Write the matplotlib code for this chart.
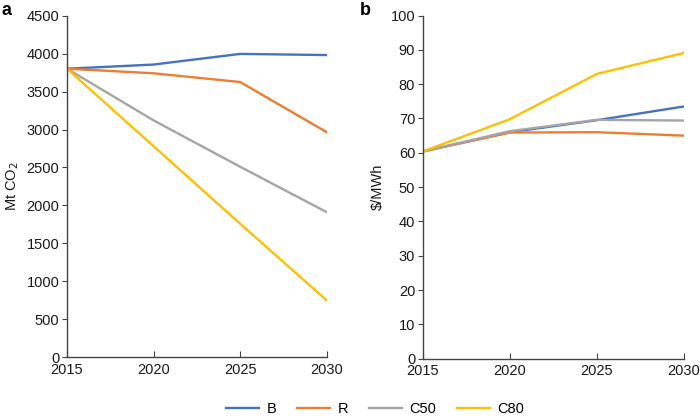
import matplotlib
matplotlib.use("Agg")
import matplotlib.pyplot as plt

plt.rcParams['font.family'] = ['Liberation Sans', 'DejaVu Sans']

years = [2015, 2020, 2025, 2030]
series = ["B", "R", "C50", "C80"]
colors = ["#4472C4", "#ED7D31", "#A5A5A5", "#FFC000"]

emis_B = [3800, 3855, 3995, 3980]
emis_R = [3800, 3740, 3625, 2965]
emis_C50 = [3800, 3120, 2510, 1912]
emis_C80 = [3800, 2780, 1760, 752]

cost_B = [60.4, 66.0, 69.5, 73.5]
cost_R = [60.4, 65.9, 66.0, 65.0]
cost_C50 = [60.4, 66.3, 69.6, 69.4]
cost_C80 = [60.4, 69.8, 83.0, 89.1]

fig = plt.figure(figsize=(7, 4.2), dpi=100)
ax1 = fig.add_axes([0.0957, 0.149, 0.371, 0.814])
ax2 = fig.add_axes([0.604, 0.146, 0.373, 0.817])

handles = []
for data, c, name in zip([emis_B, emis_R, emis_C50, emis_C80], colors, series):
    h, = ax1.plot(years, data, color=c, lw=1.7, label=name)
    handles.append(h)
for data, c in zip([cost_B, cost_R, cost_C50, cost_C80], colors):
    ax2.plot(years, data, color=c, lw=1.7)

spine_col = "#444444"
fs = 10.5
for ax, ymax, step in [(ax1, 4500, 500), (ax2, 100, 10)]:
    ax.set_xlim(2015, 2030)
    ax.set_ylim(0, ymax)
    ax.set_xticks(years)
    ax.set_yticks(range(0, ymax + 1, step))
    for s in ["top", "right"]:
        ax.spines[s].set_visible(False)
    for s in ["left", "bottom"]:
        ax.spines[s].set_color(spine_col)
        ax.spines[s].set_linewidth(1.0)
    ax.tick_params(axis='y', direction='out', length=3.5, color=spine_col, labelsize=fs, pad=2, labelcolor='#1a1a1a')
    ax.tick_params(axis='x', direction='in', length=4, color=spine_col, labelsize=fs, pad=4, labelcolor='#1a1a1a')

ax1.set_ylabel("Mt CO$_2$", fontsize=fs, labelpad=4, color='#1a1a1a')
ax2.set_ylabel("$/MWh", fontsize=fs, labelpad=4, color='#1a1a1a')

fig.text(0.002, 0.976, "a", fontsize=13, fontweight='bold', va='center')
fig.text(0.514, 0.976, "b", fontsize=13, fontweight='bold', va='center')

fig.legend(handles=handles, labels=series, loc='lower center', ncol=4,
           bbox_to_anchor=(0.536, -0.022), frameon=False, fontsize=fs,
           handlelength=2.3, columnspacing=1.4, handletextpad=0.5)

fig.savefig("out.png", dpi=100)
